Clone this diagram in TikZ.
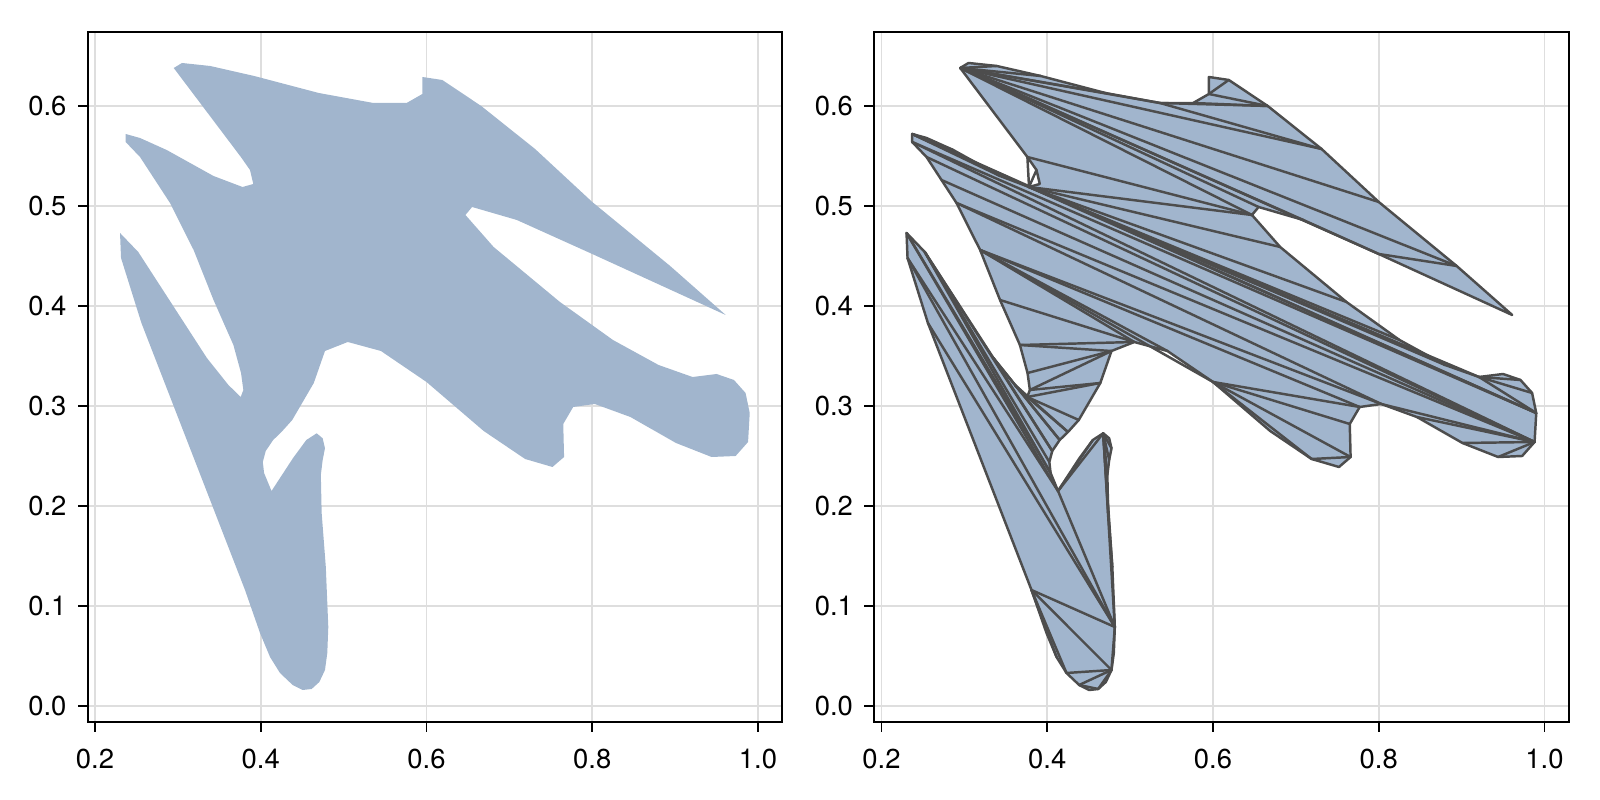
\documentclass[tikz,border=0pt]{standalone}
\usepackage{fontspec}
\setmainfont{TeX Gyre Heros}
\definecolor{shapefill}{RGB}{161,181,205}
\definecolor{strokegray}{RGB}{77,77,77}
\definecolor{gridgray}{RGB}{222,222,222}
\tikzset{
  gridline/.style={draw=gridgray, line width=0.5pt},
  frameline/.style={draw=black, line width=0.55pt},
  tickline/.style={draw=black, line width=0.55pt},
  ticklabel/.style={inner sep=0pt, font=\fontsize{7.8pt}{9pt}\selectfont},
  shapearea/.style={fill=shapefill},
  triedge/.style={draw=strokegray, line width=0.7pt, line cap=round, line join=round},
}
\newcommand\definepoints{%
\coordinate (p1) at (0.295,0.638);
\coordinate (p2) at (0.305,0.643);
\coordinate (p3) at (0.339,0.640);
\coordinate (p4) at (0.392,0.630);
\coordinate (p5) at (0.470,0.613);
\coordinate (p6) at (0.536,0.603);
\coordinate (p7) at (0.576,0.603);
\coordinate (p8) at (0.595,0.612);
\coordinate (p9) at (0.595,0.629);
\coordinate (p10) at (0.619,0.626);
\coordinate (p11) at (0.666,0.600);
\coordinate (p12) at (0.731,0.557);
\coordinate (p13) at (0.800,0.504);
\coordinate (p14) at (0.894,0.440);
\coordinate (p15) at (0.961,0.391);
\coordinate (p16) at (0.800,0.452);
\coordinate (p17) at (0.709,0.486);
\coordinate (p18) at (0.655,0.499);
\coordinate (p19) at (0.647,0.491);
\coordinate (p20) at (0.681,0.459);
\coordinate (p21) at (0.761,0.404);
\coordinate (p22) at (0.825,0.366);
\coordinate (p23) at (0.880,0.341);
\coordinate (p24) at (0.921,0.329);
\coordinate (p25) at (0.950,0.332);
\coordinate (p26) at (0.971,0.326);
\coordinate (p27) at (0.985,0.313);
\coordinate (p28) at (0.990,0.293);
\coordinate (p29) at (0.988,0.264);
\coordinate (p30) at (0.973,0.250);
\coordinate (p31) at (0.944,0.249);
\coordinate (p32) at (0.901,0.263);
\coordinate (p33) at (0.846,0.289);
\coordinate (p34) at (0.803,0.302);
\coordinate (p35) at (0.777,0.299);
\coordinate (p36) at (0.765,0.282);
\coordinate (p37) at (0.766,0.249);
\coordinate (p38) at (0.752,0.239);
\coordinate (p39) at (0.719,0.247);
\coordinate (p40) at (0.669,0.275);
\coordinate (p41) at (0.600,0.324);
\coordinate (p42) at (0.545,0.355);
\coordinate (p43) at (0.505,0.364);
\coordinate (p44) at (0.4775,0.355);
\coordinate (p45) at (0.464,0.323);
\coordinate (p46) at (0.438,0.286);
\coordinate (p47) at (0.425,0.274);
\coordinate (p48) at (0.415,0.266);
\coordinate (p49) at (0.406,0.255);
\coordinate (p50) at (0.4025,0.244);
\coordinate (p51) at (0.404,0.233);
\coordinate (p52) at (0.413,0.215);
\coordinate (p53) at (0.439,0.248);
\coordinate (p54) at (0.455,0.266);
\coordinate (p55) at (0.4675,0.2727);
\coordinate (p56) at (0.4747,0.2677);
\coordinate (p57) at (0.4775,0.2577);
\coordinate (p58) at (0.4747,0.246);
\coordinate (p59) at (0.4725,0.231);
\coordinate (p60) at (0.4735,0.193);
\coordinate (p61) at (0.4785,0.139);
\coordinate (p62) at (0.4815,0.079);
\coordinate (p63) at (0.4803,0.053);
\coordinate (p64) at (0.4775,0.036);
\coordinate (p65) at (0.4707,0.024);
\coordinate (p66) at (0.4614,0.017);
\coordinate (p67) at (0.4506,0.016);
\coordinate (p68) at (0.4385,0.021);
\coordinate (p69) at (0.4232,0.033);
\coordinate (p70) at (0.4112,0.049);
\coordinate (p71) at (0.3991,0.073);
\coordinate (p72) at (0.381,0.116);
\coordinate (p73) at (0.256,0.383);
\coordinate (p74) at (0.2314,0.448);
\coordinate (p75) at (0.2302,0.473);
\coordinate (p76) at (0.2522,0.454);
\coordinate (p77) at (0.335,0.348);
\coordinate (p78) at (0.361,0.321);
\coordinate (p79) at (0.3758,0.309);
\coordinate (p80) at (0.379,0.316);
\coordinate (p81) at (0.3762,0.333);
\coordinate (p82) at (0.367,0.361);
\coordinate (p83) at (0.343,0.406);
\coordinate (p84) at (0.319,0.456);
\coordinate (p85) at (0.2905,0.503);
\coordinate (p86) at (0.2724,0.526);
\coordinate (p87) at (0.2543,0.549);
\coordinate (p88) at (0.237,0.564);
\coordinate (p89) at (0.237,0.572);
\coordinate (p90) at (0.2543,0.568);
\coordinate (p91) at (0.2865,0.556);
\coordinate (p92) at (0.343,0.530);
\coordinate (p93) at (0.378,0.519);
\coordinate (p94) at (0.391,0.522);
\coordinate (p95) at (0.387,0.536);
\coordinate (p96) at (0.376,0.549);
}
\newcommand\axesdecor[1]{%
  \foreach \x in {0.2,0.4,0.6,0.8,1.0}
    \draw[gridline] (\x,-0.016) -- (\x,0.674);
  \foreach \y in {0.0,0.1,0.2,0.3,0.4,0.5,0.6}
    \draw[gridline] (0.1913,\y) -- (1.029,\y);
  \foreach \x [count=\i] in {0.2,0.4,0.6,0.8,1.0}{
    \draw[tickline] (\x,-0.016) -- (\x,-0.026);
    \node[ticklabel, anchor=north] (#1x\i) at (\x,-0.042) {\x};
  }
  \foreach \y [count=\i] in {0.0,0.1,0.2,0.3,0.4,0.5,0.6}{
    \draw[tickline] (0.1913,\y) -- (0.1792,\y);
    \node[ticklabel, anchor=east] (#1y\i) at (0.1664,\y) {\y};
  }
}
\begin{document}
\begin{tikzpicture}
\useasboundingbox (0,0) rectangle (16,8);
% left panel
\begin{scope}[xshift=-0.7075cm, yshift=0.94cm, x=8.2875cm, y=10cm]
  \axesdecor{L}
  \definepoints
  \path[shapearea] (p1) \foreach \i in {2,...,96}{ -- (p\i)} -- cycle;
  \draw[frameline] (0.1913,-0.016) rectangle (1.029,0.674);
\end{scope}
% right panel
\begin{scope}[xshift=7.1575cm, yshift=0.94cm, x=8.2875cm, y=10cm]
  \axesdecor{R}
  \definepoints
  \path[shapearea] (p1) \foreach \i in {2,...,96}{ -- (p\i)} -- cycle;
  \foreach \a/\b in {1/3,1/4,1/5,1/6,6/11,7/11,8/11,8/10,6/12,1/12,1/13,1/14,14/16,1/16,1/17,1/18,1/19,
    89/91,89/92,89/93,93/95,93/96,96/19,93/19,93/20,93/21,93/22,93/23,93/24,24/26,24/27,24/28,93/28,89/28,
    88/28,88/29,87/29,86/29,85/29,29/31,29/32,29/33,29/34,85/34,84/34,84/35,41/35,41/36,41/37,41/39,37/39,
    84/41,84/42,84/43,83/43,82/43,82/44,81/44,80/44,80/45,79/45,79/46,
    79/47,78/47,78/48,77/48,77/49,76/49,76/50,76/51,75/51,75/52,74/52,74/62,73/62,72/62,
    52/54,52/55,52/62,55/57,55/58,55/59,55/60,55/61,55/62,62/64,64/66,66/68,64/68,64/69,72/64,72/69,72/70}
    \draw[triedge] (p\a) -- (p\b);
  \draw[triedge] (p1) \foreach \i in {2,...,96}{ -- (p\i)} -- cycle;
  \draw[frameline] (0.1913,-0.016) rectangle (1.029,0.674);
\end{scope}
\end{tikzpicture}
\end{document}
